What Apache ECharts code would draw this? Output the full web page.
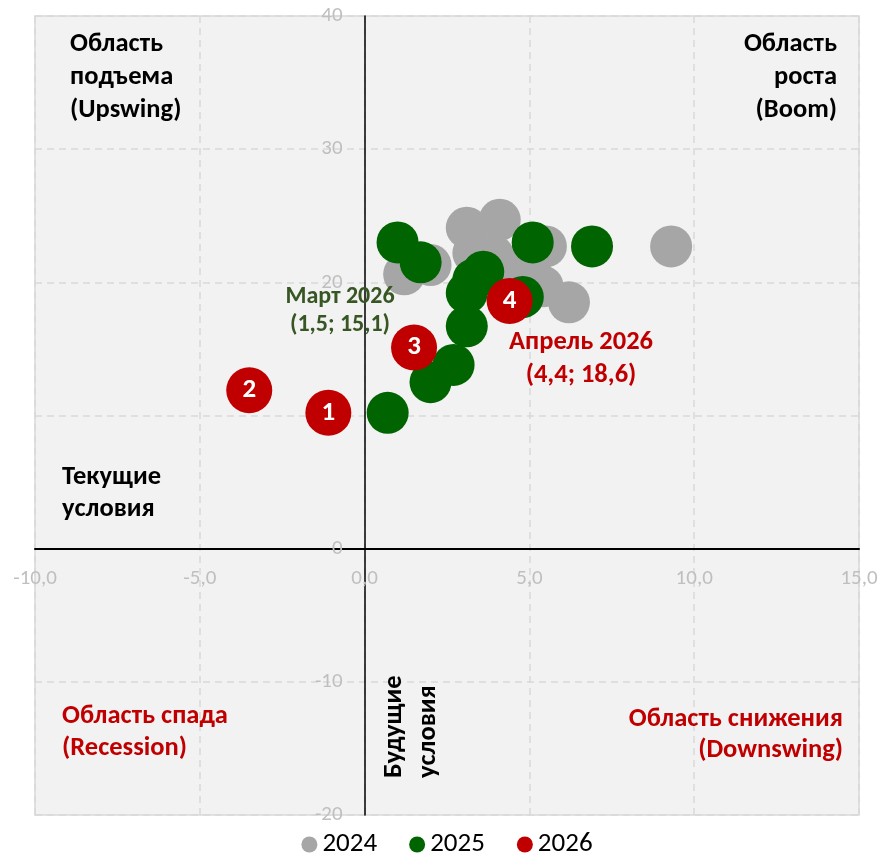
<!DOCTYPE html>
<html>
<head>
<meta charset="utf-8">
<script src="https://cdn.jsdelivr.net/npm/echarts@6/dist/echarts.min.js"></script>
<style>
html,body{margin:0;padding:0;background:#fff;}
#chart{width:894px;height:856px;}
</style>
</head>
<body>
<div id="chart"></div>
<script>
// ---- data ----
const seriesNames = ['2024', '2025', '2026'];
const x2024 = [3.1, 4.1, 5.5, 9.3, 6.2, 5.4, 1.2, 2.0, 3.9, 4.6, 3.3, 4.9];
const y2024 = [24.1, 24.7, 22.7, 22.7, 18.5, 19.7, 20.6, 21.3, 22.0, 21.2, 22.2, 20.2];
const x2025 = [1.0, 1.7, 3.6, 5.1, 6.9, 4.8, 3.1, 3.3, 3.1, 2.7, 2.0, 0.7];
const y2025 = [23.0, 21.5, 20.8, 23.0, 22.7, 18.9, 19.2, 20.2, 16.7, 13.8, 12.5, 10.2];
const x2026 = [-1.1, -3.5, 1.5, 4.4];
const y2026 = [10.2, 11.9, 15.1, 18.6];
const labels2026 = ['1', '2', '3', '4'];
const xTicks = [-10, -5, 0, 5, 10, 15];
const yTicks = [-20, -10, 0, 10, 20, 30, 40];

const FONT = 'Carlito, Lato, "Open Sans", sans-serif';
const colors = ['#a6a6a6', '#006400', '#c00000'];

const zip = (xs, ys) => xs.map((x, i) => [x, ys[i]]);

const W = 894, H = 856;
const G = { left: 35, right: 35, top: 16, bottom: 41 };
const gw = W - G.left - G.right, gh = H - G.top - G.bottom;
const xMin = xTicks[0], xMax = xTicks[xTicks.length - 1];
const yMin = yTicks[0], yMax = yTicks[yTicks.length - 1];
// shift the axes (with their labels) onto the zero lines
const yAxisOffset = -gw * (0 - xMin) / (xMax - xMin);
const xAxisOffset = -gh * (0 - yMin) / (yMax - yMin);

const chart = echarts.init(document.getElementById('chart'));

function txt(text, x, y, opts) {
  return Object.assign({
    type: 'text',
    x: x, y: y,
    z: 100,
    style: Object.assign({
      text: text,
      x: 0, y: 0,
      fill: '#000',
      font: 'bold 26.5px ' + FONT,
      lineHeight: 33,
      textAlign: 'left',
      textVerticalAlign: 'top'
    }, opts && opts.style || {})
  }, opts && opts.el || {});
}

const option = {
  animation: false,
  backgroundColor: '#fff',
  textStyle: { fontFamily: FONT },
  grid: {
    left: G.left, right: G.right, top: G.top, bottom: G.bottom,
    containLabel: false, outerBoundsMode: 'none',
    show: true, backgroundColor: '#f2f2f2',
    borderColor: '#d9d9d9', borderWidth: 1.5
  },
  legend: {
    top: 826,
    left: 'center',
    data: seriesNames,
    icon: 'circle',
    itemWidth: 16, itemHeight: 16,
    itemGap: 32,
    textStyle: { fontSize: 27, color: '#000', fontFamily: FONT }
  },
  xAxis: {
    type: 'value', position: 'bottom', offset: xAxisOffset,
    min: xMin, max: xMax, interval: 5,
    axisLine: { onZero: false, lineStyle: { color: '#000', width: 2 } },
    axisTick: { show: false },
    axisLabel: {
      color: '#bfbfbf', fontSize: 21, margin: 20, fontFamily: FONT,
      showMinLabel: true, showMaxLabel: true,
      formatter: v => v.toFixed(1).replace('.', ',')
    },
    splitLine: { show: true, lineStyle: { color: '#d9d9d9', width: 1.5, type: [7, 5] } }
  },
  yAxis: {
    type: 'value', position: 'left', offset: yAxisOffset,
    min: yMin, max: yMax, interval: 10,
    axisLine: { onZero: false, lineStyle: { color: '#000', width: 1.5 } },
    axisTick: { show: false },
    axisLabel: {
      color: '#bfbfbf', fontSize: 21, margin: 22, fontFamily: FONT,
      showMinLabel: true, showMaxLabel: true,
      formatter: v => String(v)
    },
    splitLine: { show: true, lineStyle: { color: '#d9d9d9', width: 1.5, type: [7, 5] } }
  },
  series: [
    {
      name: seriesNames[0], type: 'scatter', symbolSize: 42,
      itemStyle: { color: colors[0], opacity: 1 },
      data: zip(x2024, y2024), z: 2
    },
    {
      name: seriesNames[1], type: 'scatter', symbolSize: 42,
      itemStyle: { color: colors[1], opacity: 1 },
      data: zip(x2025, y2025), z: 3
    },
    {
      name: seriesNames[2], type: 'scatter', symbolSize: 46,
      itemStyle: { color: colors[2], opacity: 1 },
      data: zip(x2026, y2026), z: 4,
      label: {
        show: true, position: 'inside', color: '#fff',
        fontSize: 27, fontWeight: 'bold', fontFamily: FONT,
        formatter: p => labels2026[p.dataIndex]
      }
    }
  ],
  graphic: [
    txt('Область\nподъема\n(Upswing)', 70, 28),
    txt('Область\nроста\n(Boom)', 837, 28, { style: { textAlign: 'right' } }),
    txt('Текущие\nусловия', 62, 461, { style: { lineHeight: 32 } }),
    txt('Область спада\n(Recession)', 62, 700, { style: { fill: '#c00000', lineHeight: 32 } }),
    txt('Область снижения\n(Downswing)', 843, 704, { style: { fill: '#c00000', textAlign: 'right', lineHeight: 31 } }),
    txt('Март 2026\n(1,5; 15,1)', 340, 283, { style: { fill: '#375623', textAlign: 'center', lineHeight: 28, font: 'bold 24px ' + FONT } }),
    txt('Апрель 2026\n(4,4; 18,6)', 581, 326, { style: { fill: '#c00000', textAlign: 'center', lineHeight: 33 } }),
    txt('Будущие\nусловия', 411, 778, { el: { rotation: Math.PI / 2 }, style: { textVerticalAlign: 'middle', lineHeight: 34 } })
  ]
};
chart.setOption(option);
</script>
</body>
</html>
